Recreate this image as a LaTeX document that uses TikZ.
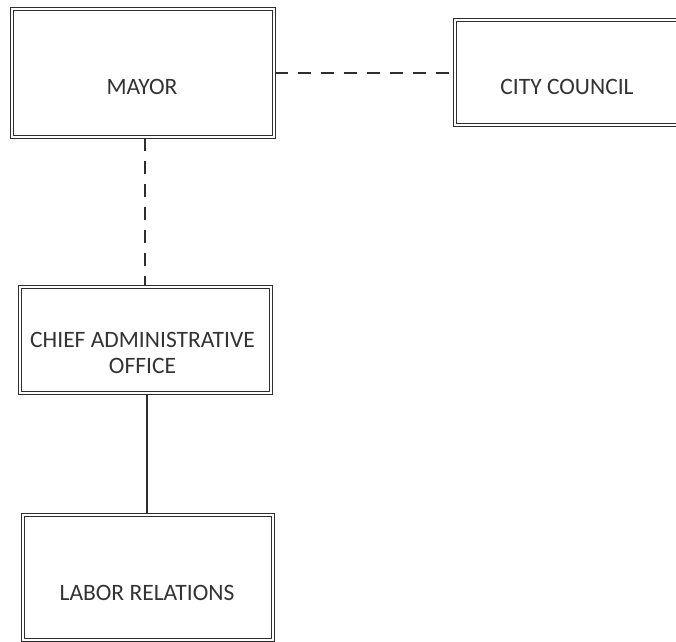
\documentclass[tikz,border=0pt]{standalone}
\usepackage{fontspec}
\setmainfont{Carlito}
\begin{document}
\begin{tikzpicture}[x=1pt,y=-1pt,
  box/.style={draw=boxcol, line width=1.4pt, double=white, double distance=2pt, rectangle, inner sep=0pt},
  lbl/.style={text=txtcol, font=\fontsize{23.5}{26}\selectfont, align=center, inner sep=0pt},
  conn/.style={draw=boxcol, line width=1.5pt},
  dashconn/.style={conn, dash pattern=on 13pt off 10pt}
]
\definecolor{boxcol}{HTML}{2E2E2E}
\definecolor{txtcol}{HTML}{333333}
\useasboundingbox[fill=white] (0,0) rectangle (676,641);
\node[box, minimum width=262pt, minimum height=128pt] (mayor) at (143,73) {};
\node[box, minimum width=250pt, minimum height=105pt] (council) at (580,72.5) {};
\node[box, minimum width=251pt, minimum height=106pt] (cao) at (145.5,340) {};
\node[box, minimum width=250pt, minimum height=125pt] (labor) at (148,577.5) {};
\node[lbl] (tmayor) at (142,87) {MAYOR};
\node[lbl] (tcouncil) at (567,87) {CITY COUNCIL};
\node[lbl] (tcao) at (142.5,353) {CHIEF ADMINISTRATIVE\\OFFICE};
\node[lbl] (tlabor) at (147,592.5) {LABOR RELATIONS};
\draw[dashconn] (mayor.east) -- (council.west |- mayor.east);
\draw[dashconn] ([xshift=2pt]mayor.south) -- ([xshift=2pt]mayor.south |- cao.north);
\draw[conn] ([xshift=1.5pt]cao.south) -- ([xshift=1.5pt]cao.south |- labor.north);
\end{tikzpicture}
\end{document}
